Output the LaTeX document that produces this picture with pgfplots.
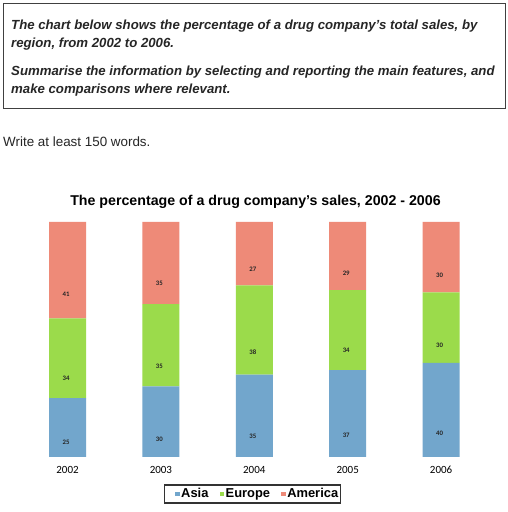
\documentclass[border=0pt]{standalone}
\usepackage{pgfplots}
\pgfplotsset{compat=1.18}
\usepackage{fontspec}
\setmainfont{Liberation Sans}
\newfontfamily\calibri{Carlito}

\definecolor{asia}{HTML}{72A6CC}
\definecolor{europe}{HTML}{9BDB4B}
\definecolor{america}{HTML}{EE8A78}

% shift for a bar segment's label, so that it sits in the middle of the segment
\pgfplotsset{
  midlabel/.code={
    \pgfkeys{/pgf/fpu=true,/pgf/fpu/output format=fixed}
    \pgfmathsetmacro\halfseg{0.5875*\pgfplotspointmeta}
    \pgfkeys{/pgf/fpu=false}
  },
}

\begin{document}
\begin{tikzpicture}[x=1bp,y=1bp]
\useasboundingbox[fill=white] (0,0) rectangle (508,512);

% task box
\draw[line width=0.9bp, black!75] (3,404) rectangle (505,509);
\begin{scope}[every node/.style={anchor=base west, inner sep=0pt,
    font=\fontsize{13.2bp}{15bp}\selectfont\bfseries\itshape, text=black!85}]
\node at (11,482) {The chart below shows the percentage of a drug company's total sales, by};
\node at (11,464) {region, from 2002 to 2006.};
\node at (11,436) {Summarise the information by selecting and reporting the main features, and};
\node at (11,418) {make comparisons where relevant.};
\end{scope}
\node[anchor=base west, inner sep=0pt, font=\fontsize{13.4bp}{15bp}\selectfont, text=black!85]
  at (3,365) {Write at least 150 words.};

% chart title
\node[anchor=base, inner sep=0pt, font=\fontsize{14.2bp}{16bp}\selectfont\bfseries]
  at (255.5,306) {The percentage of a drug company's sales, 2002 - 2006};

\begin{axis}[
    at={(20.8bp,55bp)}, anchor=south west,
    scale only axis, width=467bp, height=235bp,
    ybar stacked, bar width=37bp,
    xmin=-0.5, xmax=4.5, ymin=0, ymax=100,
    axis line style={draw=none},
    major tick length=0pt,
    ytick=\empty,
    xtick=data,
    xticklabels={2002,2003,2004,2005,2006},
    xticklabel style={font=\calibri\fontsize{11bp}{13bp}\selectfont, yshift=-5.5bp},
    /pgf/number format/assume math mode=true,
    nodes near coords,
    every node near coord/.append style={/pgfplots/midlabel, anchor=center,
      yshift=-\halfseg bp, xshift=-1.5bp,
      font=\calibri\fontsize{6.8bp}{8bp}\selectfont\bfseries, text=black!85},
    legend style={at={(0.5,0)}, anchor=center, xshift=-2bp, yshift=-37bp,
      legend columns=-1, draw=black!80, line width=1.3bp,
      font=\fontsize{12.9bp}{14bp}\selectfont\bfseries,
      inner xsep=1bp, inner ysep=1.5bp,
      nodes={inner xsep=1.2bp}},
    % the empty path before each square gives the room between entries
    legend image code/.code={\path (-10bp,0bp);
      \fill[#1] (0bp,-2.4bp) rectangle (4.8bp,2.4bp);},
  ]
\addplot[fill=asia, draw=none] coordinates {(0,25) (1,30) (2,35) (3,37) (4,40)};
\addplot[fill=europe, draw=none] coordinates {(0,34) (1,35) (2,38) (3,34) (4,30)};
\addplot[fill=america, draw=none] coordinates {(0,41) (1,35) (2,27) (3,29) (4,30)};
\legend{Asia,Europe,America}
\end{axis}
\end{tikzpicture}
\end{document}
